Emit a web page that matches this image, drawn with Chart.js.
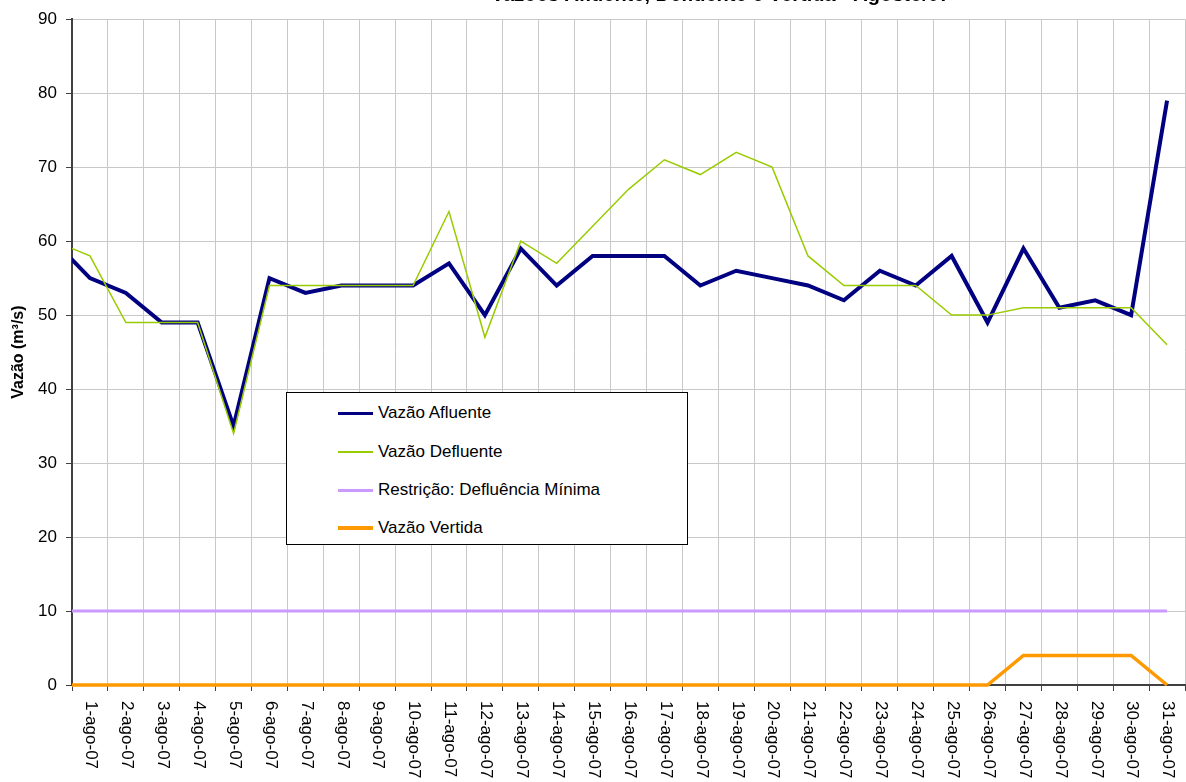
<!DOCTYPE html>
<html>
<head>
<meta charset="utf-8">
<script src="https://cdn.jsdelivr.net/npm/chart.js@4/dist/chart.umd.min.js"></script>
<style>
    body { margin: 0; background: #fff; }
    #wrap { position: relative; width: 1186px; height: 782px; overflow: hidden; }
    #legend {
        position: absolute; left: 286px; top: 392px; width: 400px; height: 151px;
        border: 1px solid #000; background: #fff;
        font-family: "Liberation Sans", Arial, sans-serif; font-size: 17px; color: #000;
    }
    .item { position: absolute; left: 51px; height: 20px; display: flex; align-items: center; }
    .item span.sample { display: inline-block; width: 35px; margin-right: 5px; }
</style>
</head>
<body>
<div id="wrap">
    <canvas id="chart" width="1186" height="782"></canvas>
    <div id="legend"></div>
</div>
<script>
// first entry (31-jul) sits left of the axis and is clipped, as in the original sheet
const dias = ['31-jul-07',
    '1-ago-07', '2-ago-07', '3-ago-07', '4-ago-07', '5-ago-07', '6-ago-07', '7-ago-07', '8-ago-07',
    '9-ago-07', '10-ago-07', '11-ago-07', '12-ago-07', '13-ago-07', '14-ago-07', '15-ago-07',
    '16-ago-07', '17-ago-07', '18-ago-07', '19-ago-07', '20-ago-07', '21-ago-07', '22-ago-07',
    '23-ago-07', '24-ago-07', '25-ago-07', '26-ago-07', '27-ago-07', '28-ago-07', '29-ago-07',
    '30-ago-07', '31-ago-07'];

const vazaoAfluente = [60,
    55, 53, 49, 49, 35, 55, 53, 54, 54, 54, 57, 50, 59, 54, 58,
    58, 58, 54, 56, 55, 54, 52, 56, 54, 58, 49, 59, 51, 52, 50, 79];

const vazaoDefluente = [60,
    58, 49, 49, 49, 34, 54, 54, 54, 54, 54, 64, 47, 60, 57, 62,
    67, 71, 69, 72, 70, 58, 54, 54, 54, 50, 50, 51, 51, 51, 51, 46];

const defluenciaMinima = [10,
    10, 10, 10, 10, 10, 10, 10, 10, 10, 10, 10, 10, 10, 10, 10,
    10, 10, 10, 10, 10, 10, 10, 10, 10, 10, 10, 10, 10, 10, 10, 10];

const vazaoVertida = [0,
    0, 0, 0, 0, 0, 0, 0, 0, 0, 0, 0, 0, 0, 0, 0,
    0, 0, 0, 0, 0, 0, 0, 0, 0, 0, 0, 4, 4, 4, 4, 0];

const yMin = 0;
const yMax = 90;
const yStep = 10;

const tituloGrafico = 'Vazões Afluente, Defluente e Vertida - Agosto/07';

const fonte = '"Liberation Sans", Arial, sans-serif';

// x labels in the original read top-to-bottom, so they are drawn here by hand
const rotulosX = {
    id: 'rotulosX',
    afterDraw(chart) {
        const ctx = chart.ctx;
        const scale = chart.scales.x;
        ctx.save();
        ctx.font = '17px ' + fonte;
        ctx.fillStyle = '#000';
        ctx.textAlign = 'left';
        ctx.textBaseline = 'middle';
        scale.ticks.forEach((tick, i) => {
            const x = scale.getPixelForTick(i);
            ctx.save();
            ctx.translate(x + 1, 701);
            ctx.rotate(Math.PI / 2);
            ctx.fillText(scale.getLabelForValue(tick.value), 0, 0);
            ctx.restore();
        });
        // title is cut by the top edge of the picture
        ctx.font = 'bold 20px ' + fonte;
        ctx.textAlign = 'right';
        ctx.textBaseline = 'alphabetic';
        ctx.fillText(tituloGrafico, 950, 1);
        ctx.restore();
    }
};

const clipEsq = { left: 0, top: 5, right: 5, bottom: 5 };

const chart = new Chart(document.getElementById('chart'), {
    type: 'line',
    data: {
        labels: dias,
        datasets: [
            { label: 'Vazão Afluente', data: vazaoAfluente, borderColor: '#000080', borderWidth: 4, order: 4, clip: clipEsq },
            { label: 'Vazão Defluente', data: vazaoDefluente, borderColor: '#99CC00', borderWidth: 1.5, order: 3, clip: clipEsq },
            { label: 'Restrição: Defluência Mínima', data: defluenciaMinima, borderColor: '#CC99FF', borderWidth: 3, order: 2, clip: clipEsq },
            { label: 'Vazão Vertida', data: vazaoVertida, borderColor: '#FF9900', borderWidth: 3.5, order: 1, clip: clipEsq }
        ]
    },
    options: {
        responsive: false,
        animation: false,
        devicePixelRatio: 1,
        layout: { padding: { top: 18, right: 1, left: 0, bottom: 0 } },
        elements: { point: { radius: 0 }, line: { tension: 0, borderCapStyle: 'butt', borderJoinStyle: 'miter' } },
        plugins: { legend: { display: false }, tooltip: { enabled: false } },
        scales: {
            x: {
                type: 'category',
                min: 1,
                offset: true,
                grid: { offset: true, color: '#c8c8c8', lineWidth: 1, tickLength: 6, tickColor: '#404040' },
                border: { color: '#404040', width: 2 },
                ticks: { display: false, autoSkip: false },
                afterFit(scale) { scale.height = 97; }
            },
            y: {
                min: yMin,
                max: yMax,
                ticks: { stepSize: yStep, color: '#000', font: { family: fonte, size: 17 }, padding: 9 },
                grid: { color: '#c8c8c8', lineWidth: 1, tickLength: 6, tickColor: '#404040' },
                border: { color: '#404040', width: 2 },
                title: { display: true, text: 'Vazão (m³/s)', color: '#000', font: { family: fonte, size: 16, weight: 'bold' }, padding: { top: 9, bottom: 0 } },
                afterFit(scale) { scale.width = 72; }
            }
        }
    },
    plugins: [rotulosX]
});

// legend box placed inside the plot, as in the original
const legendBox = document.getElementById('legend');
const rowsY = [10, 49, 87, 125];
chart.data.datasets.forEach((ds, i) => {
    const item = document.createElement('div');
    item.className = 'item';
    item.style.top = rowsY[i] + 'px';
    const sample = document.createElement('span');
    sample.className = 'sample';
    sample.style.height = Math.max(1, Math.round(ds.borderWidth) - (i === 0 ? 1 : 0)) + 'px';
    sample.style.background = ds.borderColor;
    const text = document.createElement('span');
    text.textContent = ds.label;
    item.appendChild(sample);
    item.appendChild(text);
    legendBox.appendChild(item);
});
</script>
</body>
</html>
